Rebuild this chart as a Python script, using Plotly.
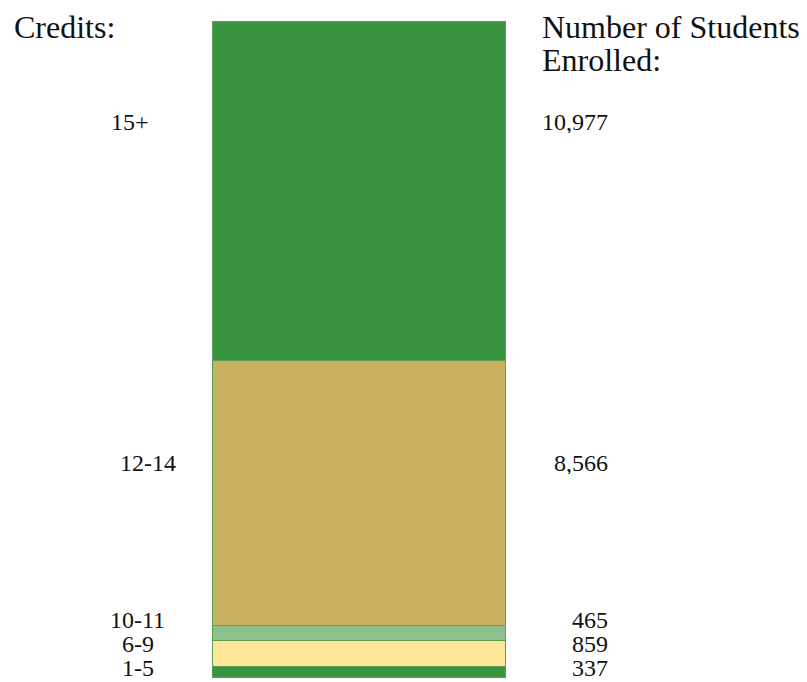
import plotly.graph_objects as go

credits = ["1-5", "6-9", "10-11", "12-14", "15+"]
students = [337, 859, 465, 8566, 10977]
colors = ["#38943e", "#ffe699", "#8fc18f", "#c8b161", "#38943e"]

# the page body adds an 8px offset; lay out in page pixels and subtract it
OFF = 8
PW, PH = 807, 682
W, H = PW - OFF, PH - OFF
bar_left, bar_right = 213 - OFF, 506 - OFF
bar_top, bar_bottom = 22 - OFF, 677.5 - OFF
total = sum(students)
ppu = (bar_bottom - bar_top) / total
pxw = bar_right - bar_left

fig = go.Figure()
for c, v, col in zip(credits, students, colors):
    fig.add_trace(go.Bar(
        x=[0], y=[v], name=c, width=1,
        marker=dict(color=col, line=dict(color="#5a9f52", width=1)),
        hoverinfo="skip", showlegend=False,
    ))

label_y_px = {"15+": 122, "12-14": 463, "10-11": 620, "6-9": 644, "1-5": 668}
left_x_px = {"15+": 130, "12-14": 148, "10-11": 137, "6-9": 138, "1-5": 138}
font_family = "Liberation Serif, DejaVu Serif, serif"


def px(xp, yp):
    return (xp - OFF) / W, 1 - (yp - OFF) / H


ann = []
for c, v in zip(credits, students):
    lx, ly = px(left_x_px[c], label_y_px[c])
    rx, _ = px(609, label_y_px[c])
    ann.append(dict(x=lx, y=ly, xref="paper", yref="paper", height=22,
                    text=c, showarrow=False, xanchor="center", yanchor="middle",
                    valign="middle", borderpad=0,
                    font=dict(size=24, color="#111", family=font_family)))
    ann.append(dict(x=rx, y=ly, xref="paper", yref="paper", height=22,
                    text=f"{v:,}", showarrow=False, xanchor="right", yanchor="middle",
                    valign="middle", borderpad=0,
                    font=dict(size=24, color="#111", family=font_family)))

for txt, xp, yp in [("Credits:", 12, 27), ("Number of Students", 540, 27),
                    ("Enrolled:", 540, 60)]:
    ax, ay = px(xp, yp)
    ann.append(dict(x=ax, y=ay, xref="paper", yref="paper", text=txt,
                    showarrow=False, xanchor="left", yanchor="middle", align="left",
                    font=dict(size=32, color="#111", family=font_family)))

fig.update_layout(
    width=W, height=H, barmode="stack",
    margin=dict(l=0, r=0, t=0, b=0),
    paper_bgcolor="white", plot_bgcolor="white",
    xaxis=dict(range=[-0.5 - bar_left / pxw, 0.5 + (W - bar_right) / pxw],
               visible=False, fixedrange=True),
    yaxis=dict(range=[-(H - bar_bottom) / ppu, total + bar_top / ppu],
               visible=False, fixedrange=True),
    annotations=ann, bargap=0,
)
fig.write_html("out.html")
